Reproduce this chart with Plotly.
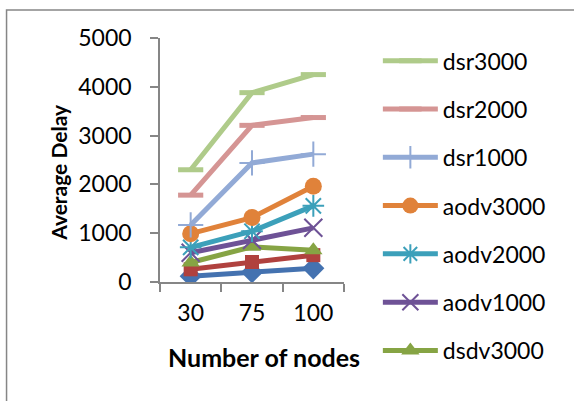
import plotly.graph_objects as go

# Number of nodes on the x axis
nodes = ["30", "75", "100"]

# Average delay per protocol / pause setting
dsdv1000 = [120, 200, 280]
dsdv2000 = [260, 410, 550]
dsdv3000 = [400, 720, 650]
aodv1000 = [600, 860, 1110]
aodv2000 = [710, 1040, 1560]
aodv3000 = [990, 1320, 1960]
dsr1000 = [1170, 2440, 2620]
dsr2000 = [1780, 3210, 3370]
dsr3000 = [2300, 3880, 4250]

y_ticks = [0, 1000, 2000, 3000, 4000, 5000]

FONT = "Lato"
AXIS_GREY = "#868686"

# name, values, colour, marker symbol, marker size, marker outline width, shown in legend
series = [
    ("dsdv1000", dsdv1000, "#4472B0", "diamond", 17, 0, False),
    ("dsdv2000", dsdv2000, "#B0413E", "square", 14, 0, False),
    ("dsdv3000", dsdv3000, "#86A444", "triangle-up", 16, 0, True),
    ("aodv1000", aodv1000, "#6E5296", "x-thin-open", 18, 2, True),
    ("aodv2000", aodv2000, "#3CA0BA", "asterisk-open", 18, 2, True),
    ("aodv3000", aodv3000, "#E0823A", "circle", 17, 0, True),
    ("dsr1000", dsr1000, "#92AAD6", "cross-thin-open", 18, 2, True),
    ("dsr2000", dsr2000, "#D59594", "line-ew-open", 18, 5, True),
    ("dsr3000", dsr3000, "#AFCB8A", "line-ew-open", 18, 5, True),
]

fig = go.Figure()
n = len(series)
for i, (name, vals, color, symbol, size, mlw, show) in enumerate(series):
    fig.add_trace(go.Scatter(
        x=nodes, y=vals, name=name, mode="lines+markers",
        legendgroup=name, showlegend=show, legendrank=n - i,
        line=dict(color=color, width=5),
        marker=dict(symbol=symbol, size=size, color=color,
                    line=dict(color=color, width=mlw)),
    ))

fig.update_layout(
    width=574, height=401,
    margin=dict(l=160, r=230, t=38, b=119),
    paper_bgcolor="white", plot_bgcolor="white",
    font=dict(family=FONT, size=23, color="#000000"),
    showlegend=True,
    legend=dict(
        x=1.184, xanchor="left", y=0.995, yanchor="top",
        traceorder="grouped", tracegroupgap=15.4,
        itemwidth=55, font=dict(family=FONT, size=23),
        bgcolor="rgba(0,0,0,0)", borderwidth=0, maxheight=400,
    ),
    xaxis=dict(
        type="category", categoryorder="array", categoryarray=nodes,
        range=[-0.5, 2.5], tickson="boundaries",
        showline=True, linecolor=AXIS_GREY, linewidth=1.5,
        ticks="outside", ticklen=8, tickcolor=AXIS_GREY, tickwidth=1.5,
        showgrid=False, zeroline=False, ticklabelstandoff=10,
    ),
    yaxis=dict(
        range=[0, 5000], tickvals=y_ticks,
        showline=True, linecolor=AXIS_GREY, linewidth=1.5,
        ticks="outside", ticklen=8, tickcolor=AXIS_GREY, tickwidth=1.5,
        showgrid=False, zeroline=False, ticklabelstandoff=14,
    ),
    annotations=[
        dict(text="<b>Number of nodes</b>", xref="paper", yref="paper",
             x=0.565, y=-0.307, xanchor="center", yanchor="middle",
             showarrow=False, font=dict(family=FONT, size=25)),
        dict(text="<b>Average Delay</b>", xref="paper", yref="paper",
             x=-0.551, y=0.45, xanchor="center", yanchor="middle",
             textangle=-90, showarrow=False, font=dict(family=FONT, size=21)),
    ],
    shapes=[
        dict(type="rect", xref="paper", yref="paper",
             x0=-0.834, x1=2.5, y0=-1.0, y1=1.115,
             line=dict(color=AXIS_GREY, width=1.5), fillcolor="rgba(0,0,0,0)",
             layer="below"),
    ],
)

fig.write_html("out.html")
